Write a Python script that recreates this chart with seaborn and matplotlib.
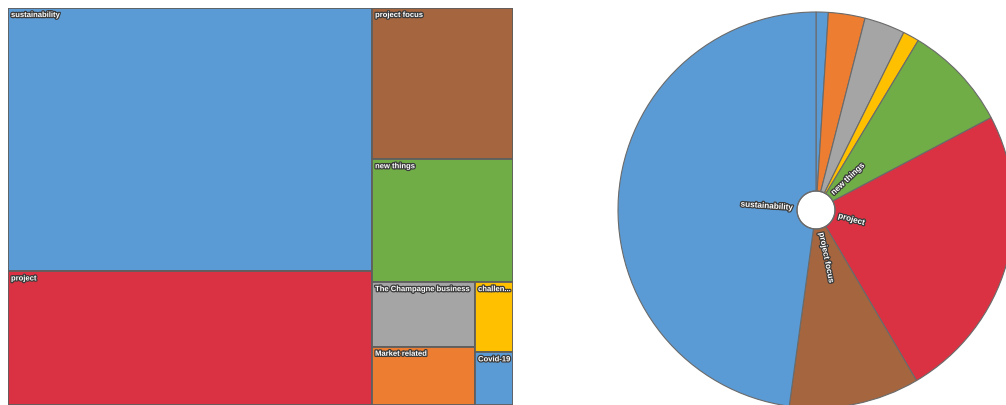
import numpy as np
import pandas as pd
import seaborn as sns
import matplotlib
matplotlib.use("Agg")
import matplotlib.pyplot as plt
from matplotlib.patches import Rectangle, Circle
import matplotlib.patheffects as pe

# ---- data ----
categories = ["sustainability", "project", "project focus", "new things",
              "The Champagne business", "Market related", "challenges", "Covid-19"]
counts = [144, 73, 32, 26, 10, 9, 4, 3]
colors = ["#5B9BD5", "#DA3242", "#A5663F", "#70AD47",
          "#A5A5A5", "#ED7D31", "#FFC000", "#5B9BD5"]

sns.set_theme(style="white")
plt.rcParams['font.family'] = ['Liberation Sans', 'DejaVu Sans']

df = pd.DataFrame({"category": categories, "count": counts, "color": colors})

W, H = 1006, 405
fig = plt.figure(figsize=(W / 100, H / 100), dpi=100)
renderer = fig.canvas.get_renderer()

EDGE = "#5f5f5f"
halo = [pe.withStroke(linewidth=1.8, foreground="#3a3a3a")]
TM_FS = 5.5
PIE_FS = 5.9


def squarify(values, x0, y0, x1, y1, ratio=(1 + 5 ** 0.5) / 2):
    rects = []
    n = len(values)
    i0 = i1 = 0
    value = float(sum(values))
    while i0 < n:
        dx, dy = x1 - x0, y1 - y0
        sumv = values[i1]
        i1 += 1
        minv = maxv = sumv
        alpha = max(dy / dx, dx / dy) / (value * ratio)
        beta = sumv * sumv * alpha
        minr = max(maxv / beta, beta / minv)
        while i1 < n:
            nv = values[i1]
            s2 = sumv + nv
            mn, mx = min(minv, nv), max(maxv, nv)
            beta = s2 * s2 * alpha
            nr = max(mx / beta, beta / mn)
            if nr > minr:
                break
            sumv, minv, maxv, minr = s2, mn, mx, nr
            i1 += 1
        row = list(range(i0, i1))
        if dx < dy:
            ny = y0 + dy * sumv / value
            cx = x0
            for k in row:
                w = dx * values[k] / sumv
                rects.append((k, cx, y0, w, ny - y0))
                cx += w
            y0 = ny
        else:
            nx = x0 + dx * sumv / value
            cy = y0
            for k in row:
                h = dy * values[k] / sumv
                rects.append((k, x0, cy, nx - x0, h))
                cy += h
            x0 = nx
        value -= sumv
        i0 = i1
    return rects


# ---- treemap ----
tm_w, tm_h = 505, 397
tm_ax = fig.add_axes([8 / W, 0, tm_w / W, tm_h / H])
tm_ax.set_xlim(0, tm_w)
tm_ax.set_ylim(tm_h, 0)
tm_ax.axis("off")

tdf = df.sort_values("count", ascending=False).reset_index(drop=True)
layout = squarify(list(tdf["count"].astype(float)), 0, 0, tm_w, tm_h)
for k, x, y, w, h in layout:
    tm_ax.add_patch(Rectangle((x, y), w, h, facecolor=tdf.loc[k, "color"],
                              edgecolor=EDGE, linewidth=1.3))
    label = tdf.loc[k, "category"]
    t = tm_ax.text(x + 3, y + 4, label, ha="left", va="top", color="white",
                   fontsize=TM_FS, fontweight="bold", path_effects=halo)
    full = label
    while t.get_window_extent(renderer).width > w - 5 and len(full) > 1:
        full = full[:-1]
        t.set_text(full + "...")

# ---- pie ----
cx, cy, R = 816, 210, 198
hole = 19 / R
pie_ax = fig.add_axes([(cx - R) / W, (H - cy - R) / H, 2 * R / W, 2 * R / H])
pdf = df.sort_values("category").reset_index(drop=True)
wedges, _ = pie_ax.pie(pdf["count"], colors=pdf["color"], startangle=90,
                       counterclock=False, radius=1,
                       wedgeprops=dict(width=1 - hole, edgecolor="#6a6a6a",
                                       linewidth=0.8))
pie_ax.add_patch(Circle((0, 0), hole, fill=False, edgecolor="#6a6a6a", lw=0.9))
pie_ax.set_xlim(-1, 1)
pie_ax.set_ylim(-1, 1)
pie_ax.set_aspect("equal")
pie_ax.axis("off")

total = pdf["count"].sum()
r0 = 23 / R
for wdg, (_, row) in zip(wedges, pdf.iterrows()):
    if row["count"] / total < 0.05:
        continue
    mid = np.deg2rad((wdg.theta1 + wdg.theta2) / 2)
    px, py = r0 * np.cos(mid), r0 * np.sin(mid)
    deg = np.rad2deg(mid)
    if np.cos(mid) >= 0:
        rot, ha = deg, "left"
    else:
        rot, ha = deg - 180, "right"
    pie_ax.text(px, py, row["category"], rotation=rot, rotation_mode="anchor",
                ha=ha, va="center", color="white", fontsize=PIE_FS,
                fontweight="bold", path_effects=halo)

fig.savefig("out.png", dpi=100)
